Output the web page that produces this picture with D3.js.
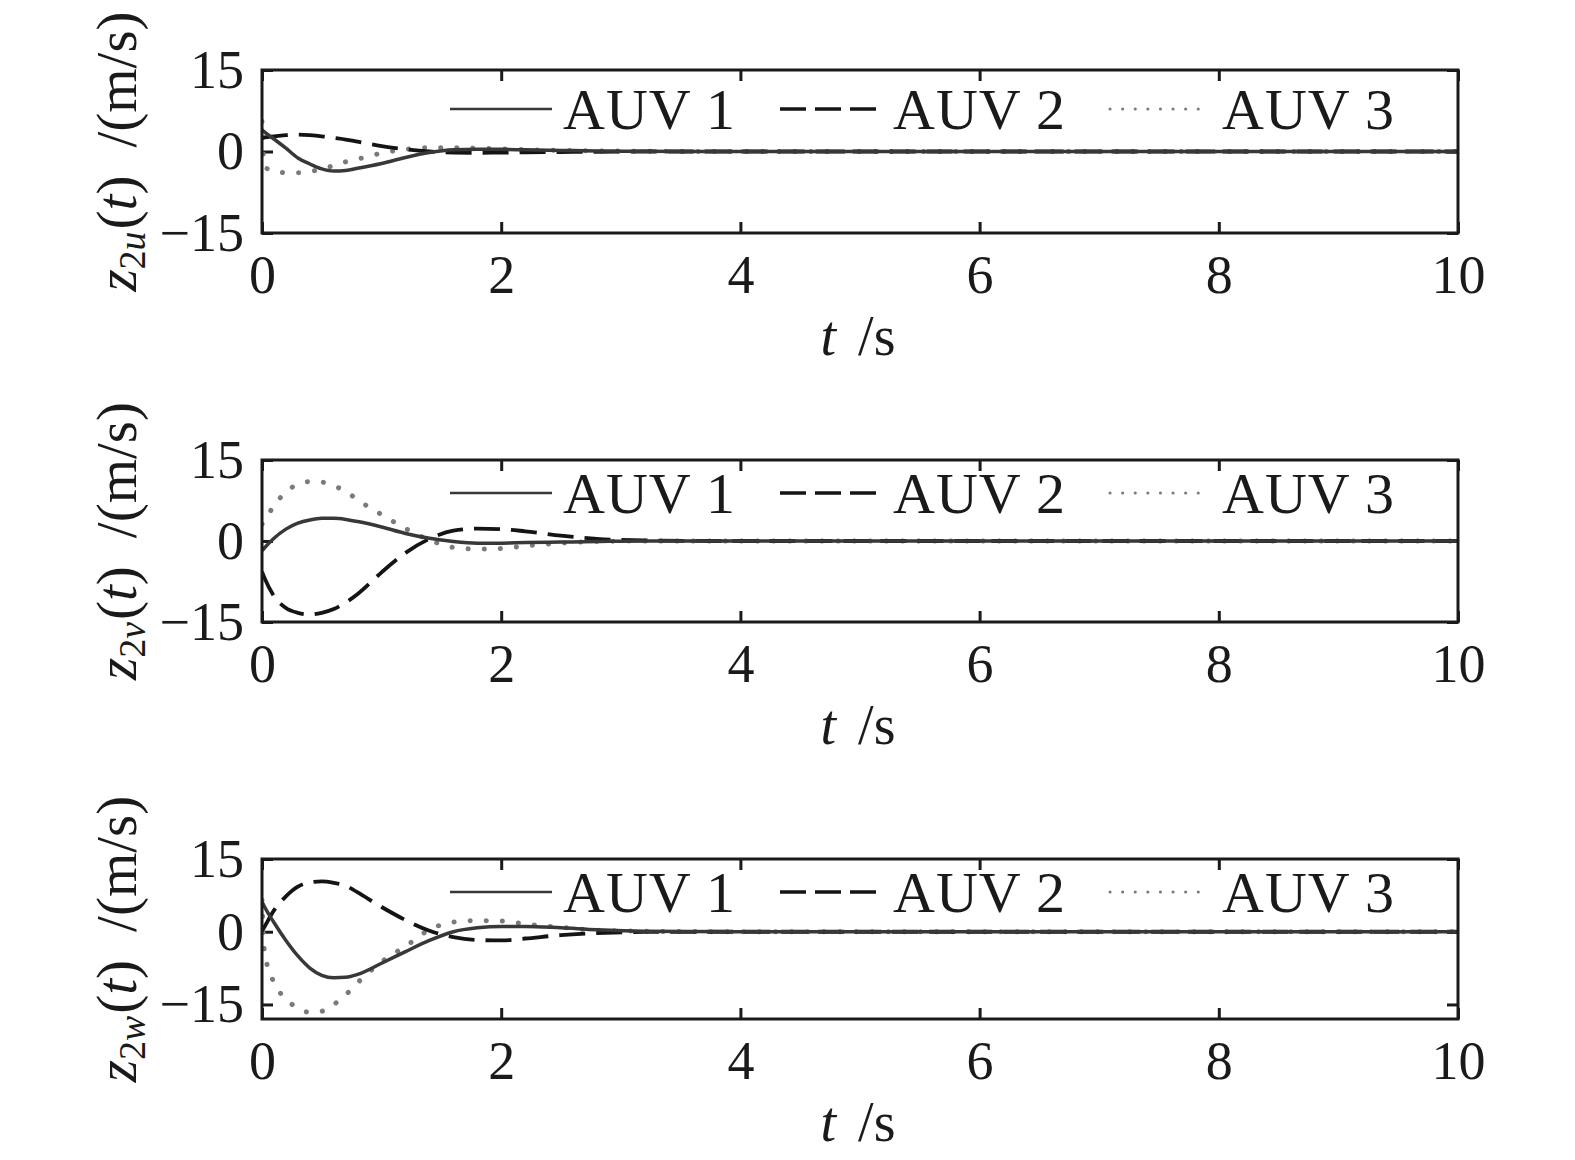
<!DOCTYPE html>
<html lang="en">
<head>
<meta charset="UTF-8">
<title>z2 velocity errors</title>
<script src="https://cdn.jsdelivr.net/npm/d3@7"></script>
<style>
  body { margin: 0; background: #fff; }
  svg text { font-family: "Liberation Serif", "DejaVu Serif", serif; fill: #1a1a1a; }
  .tick line { stroke: #1a1a1a; stroke-width: 3; }
  .tick text { font-size: 54px; }
</style>
</head>
<body>
<div id="chart"></div>
<script>
// time samples (s)
var times = [0, 0.02, 0.1, 0.2, 0.3, 0.4, 0.5, 0.6, 0.7, 0.8, 1.0, 1.2, 1.4, 1.6, 1.8, 2.0, 2.2, 2.5, 2.8, 3.2, 4, 6, 8, 10];

var seriesNames = ["AUV 1", "AUV 2", "AUV 3"];
var xTicks = [0, 2, 4, 6, 8, 10];
var yTicks = [-15, 0, 15];
var subs = ["u", "v", "w"];
var yLimits = [[-15, 15], [-15, 15], [-18, 15]];

// z2u
var u1 = [4.0, 3.6, 2.3, 0.6, -1.2, -2.3, -3.2, -3.6, -3.5, -3.1, -2.2, -1.1, -0.2, 0.3, 0.4, 0.4, 0.3, 0.2, 0.1, 0.05, 0, 0, 0, 0];
var u2 = [2.5, 2.6, 2.8, 3.0, 3.1, 3.0, 2.8, 2.5, 2.2, 1.8, 1.0, 0.4, 0.0, -0.2, -0.25, -0.2, -0.15, -0.1, -0.05, 0, 0, 0, 0, 0];
var u3 = [5.5, -2.8, -3.6, -3.9, -3.9, -3.7, -3.2, -2.6, -1.9, -1.4, -0.3, 0.4, 0.7, 0.7, 0.6, 0.5, 0.35, 0.2, 0.1, 0.05, 0, 0, 0, 0];
// z2v
var v1 = [-1.8, -1.3, 0.5, 2.2, 3.3, 3.9, 4.2, 4.2, 4.0, 3.6, 2.6, 1.4, 0.5, -0.1, -0.4, -0.4, -0.3, -0.2, -0.1, 0, 0, 0, 0, 0];
var v2 = [-5.7, -6.8, -10.2, -12.4, -13.3, -13.6, -13.3, -12.6, -11.4, -9.8, -5.8, -2.2, 0.4, 1.9, 2.3, 2.2, 1.8, 1.0, 0.4, 0.1, 0, 0, 0, 0];
var v3 = [3.1, 3.8, 6.5, 9.1, 10.5, 11.0, 10.9, 10.2, 9.2, 7.6, 4.9, 2.3, 0.2, -1.2, -1.5, -1.4, -0.9, -0.4, -0.1, 0, 0, 0, 0, 0];
// z2w
var w1 = [6.2, 5.2, 1.9, -1.8, -5.0, -7.5, -9.0, -9.5, -9.4, -8.8, -6.5, -4.1, -1.8, 0, 0.8, 1.1, 1.1, 0.8, 0.4, 0.1, 0, 0, 0, 0];
var w2 = [0.2, 1.0, 4.4, 7.3, 9.3, 10.2, 10.4, 10.1, 9.5, 8.1, 5.1, 2.4, 0.2, -1.1, -1.7, -1.8, -1.4, -0.7, -0.3, -0.05, 0, 0, 0, 0];
var w3 = [6.5, -3.9, -10.5, -13.8, -15.8, -16.6, -16.4, -15.0, -13.0, -10.5, -6.2, -3.0, 0.4, 2.0, 2.3, 2.2, 1.6, 0.9, 0.3, 0.1, 0, 0, 0, 0];

var panels = [[u1, u2, u3], [v1, v2, v3], [w1, w2, w3]];

// layout
var W = 1575, H = 1160;
var left = 262, right = 1458;
var tops = [70, 460, 859];
var bottoms = [233, 622, 1019];
var legendOffset = [39, 33, 33];

var styles = [
  { color: "#383838", width: 3.5, dash: null, cap: "butt", lw: 2.5, ldash: null },
  { color: "#141414", width: 3.8, dash: "26,11", cap: "butt", lw: 3.5, ldash: "26,9" },
  { color: "#7a7a7a", width: 5, dash: "0.1,16", cap: "round", lw: 3, ldash: "0.1,12.5" }
];
var legendX = [[450, 552, 563], [780, 880, 893], [1110, 1210, 1222]];

var svg = d3.select("#chart").append("svg").attr("width", W).attr("height", H);

var x = d3.scaleLinear().domain([0, 10]).range([left, right]);

panels.forEach(function(series, p) {
  var y = d3.scaleLinear().domain(yLimits[p]).range([bottoms[p], tops[p]]);
  var g = svg.append("g");

  g.append("clipPath").attr("id", "clip" + p)
    .append("rect").attr("x", left).attr("y", tops[p])
    .attr("width", right - left).attr("height", bottoms[p] - tops[p]);

  // axes with inward ticks
  g.append("g").attr("transform", "translate(0," + bottoms[p] + ")")
    .call(d3.axisBottom(x).tickValues(xTicks).tickSize(-11).tickPadding(22).tickFormat(d3.format("d")));
  g.append("g").attr("transform", "translate(0," + tops[p] + ")")
    .call(d3.axisTop(x).tickValues(xTicks).tickSize(-11).tickFormat(""));
  g.append("g").attr("transform", "translate(" + left + ",0)")
    .call(d3.axisLeft(y).tickValues(yTicks).tickSize(-11).tickPadding(18)
      .tickFormat(function(d) { return d < 0 ? "\u2212" + Math.abs(d) : d; }));
  g.append("g").attr("transform", "translate(" + right + ",0)")
    .call(d3.axisRight(y).tickValues(yTicks).tickSize(-11).tickFormat(""));
  g.selectAll(".domain").remove();
  g.selectAll(".tick text").attr("fill", "#1a1a1a");

  // curves
  var line = d3.line()
    .x(function(d, i) { return x(times[i]); })
    .y(function(d) { return y(d); })
    .curve(d3.curveMonotoneX);

  series.slice().reverse().forEach(function(vals, k) {
    var s = styles[2 - k];
    g.append("path")
      .attr("d", line(vals))
      .attr("clip-path", "url(#clip" + p + ")")
      .attr("fill", "none")
      .attr("stroke", s.color)
      .attr("stroke-width", s.width)
      .attr("stroke-linecap", s.cap)
      .attr("stroke-dasharray", s.dash);
  });

  // frame
  g.append("rect")
    .attr("x", left).attr("y", tops[p])
    .attr("width", right - left).attr("height", bottoms[p] - tops[p])
    .attr("fill", "none").attr("stroke", "#1a1a1a").attr("stroke-width", 3);

  // legend
  var ly = tops[p] + legendOffset[p];
  seriesNames.forEach(function(name, k) {
    var s = styles[k];
    g.append("line")
      .attr("x1", legendX[k][0]).attr("x2", legendX[k][1])
      .attr("y1", ly).attr("y2", ly)
      .attr("stroke", s.color).attr("stroke-width", s.lw)
      .attr("stroke-linecap", s.cap)
      .attr("stroke-dasharray", s.ldash);
    g.append("text")
      .attr("x", legendX[k][2]).attr("y", ly + 20)
      .attr("font-size", 58)
      .attr("letter-spacing", 1)
      .text(name);
  });

  // x label
  var xl = g.append("text")
    .attr("x", 858).attr("y", bottoms[p] + 122)
    .attr("text-anchor", "middle")
    .attr("font-size", 56);
  xl.append("tspan").attr("font-style", "italic").text("t");
  xl.append("tspan").attr("dx", 22).text("/s");

  // y label
  var cy = (tops[p] + bottoms[p]) / 2;
  var yl = g.append("text")
    .attr("transform", "translate(136," + cy + ") rotate(-90)")
    .attr("text-anchor", "middle")
    .attr("font-size", 57);
  yl.append("tspan").attr("font-style", "italic").text("z");
  yl.append("tspan").attr("dy", 9).attr("font-size", 38).text("2");
  yl.append("tspan").attr("font-size", 38).attr("font-style", "italic").text(subs[p]);
  yl.append("tspan").attr("dy", -9).attr("dx", 2).text("(");
  yl.append("tspan").attr("font-style", "italic").text("t");
  yl.append("tspan").text(")");
  yl.append("tspan").attr("dx", 28).text("/(m/s)");
});
</script>
</body>
</html>
